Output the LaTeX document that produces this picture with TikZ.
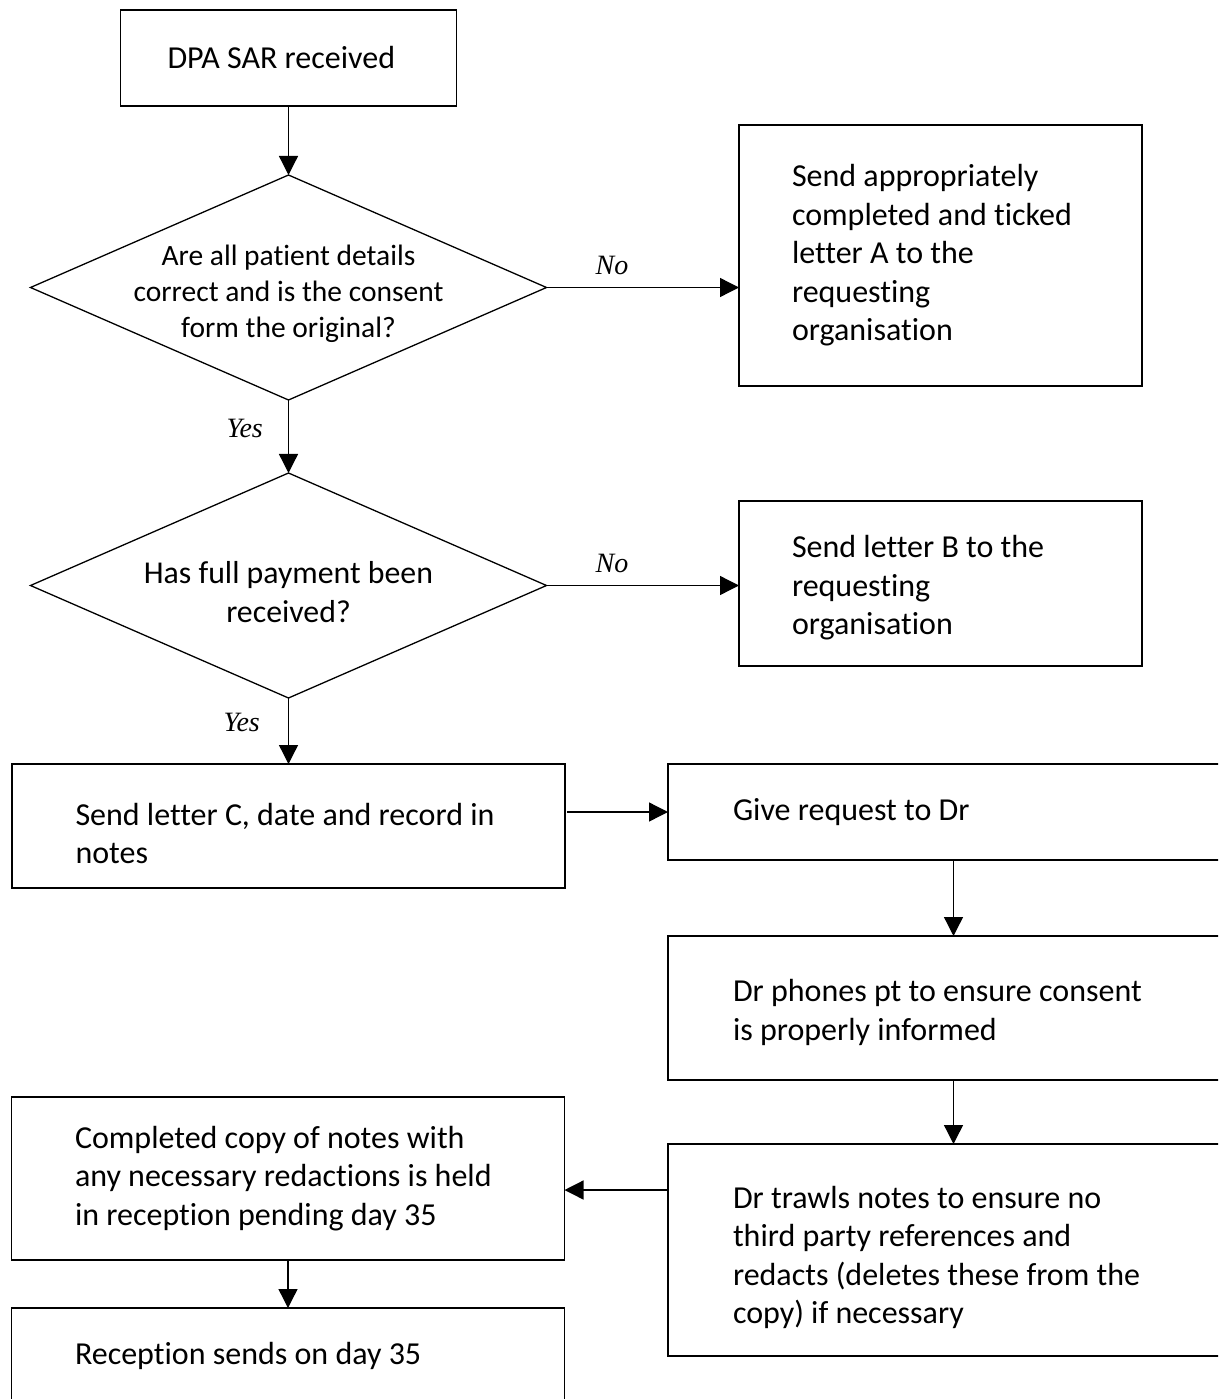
\documentclass[tikz,border=0pt]{standalone}
\usepackage{fontspec}
\setmainfont{Carlito}[Ligatures=NoCommon]
\newfontfamily\labelfont{Liberation Serif}
\usetikzlibrary{shapes.geometric,arrows.meta,positioning}

\tikzset{
  box/.style={draw, rectangle, line width=1.8pt, outer sep=0pt, inner ysep=0pt, align=flush left,
    font=\fontsize{32}{38.5}\selectfont},
  replybox/.style={box, minimum width=403pt, text width=297pt},
  leftbox/.style={box, minimum width=553pt, text width=426pt},
  rightbox/.style={box, minimum width=571pt, text width=441pt},
  decision/.style={draw, diamond, aspect=2.293, line width=1.3pt, outer sep=0pt, inner sep=-8pt,
    align=center, minimum width=516pt, minimum height=225pt, font=\fontsize{31.8}{38.5}\selectfont},
  arrow/.style={line width=1.3pt, -{Triangle[length=19pt,width=19pt]}},
  answer/.style={inner sep=0pt, font=\labelfont\itshape\fontsize{28}{34}\selectfont}
}

\begin{document}
\begin{tikzpicture}[x=1pt, y=-1pt]
\useasboundingbox (0,0) rectangle (1218,1399);
\clip (0,0) rectangle (1218,1399);
% left column: checks on the request
\node[box, minimum width=336pt, minimum height=96pt, text width=242pt](dpa) at (288.5,58) {DPA SAR received};
\node[decision, text height=105pt, font=\fontsize{29.5}{36}\selectfont](details) at (288.5,287.5) {Are all patient details\\correct and is the consent\\form the original?};
\node[replybox, minimum height=261pt](letterA) at (940.5,255.5) {Send appropriately\\completed and ticked\\letter A to the\\requesting\\organisation};
\node[decision, text height=74pt](payment) at (288.5,585.5) {Has full payment been\\received?};
\node[replybox, minimum height=165pt, text height=31pt](letterB) at (940.5,583.5) {Send letter B to the\\requesting\\organisation};
\node[leftbox, minimum height=124pt, text height=37pt](letterC) at (288.5,826) {Send letter C, date and record in\\notes};
% right column: the doctor
\node[rightbox, minimum height=96pt](request) at (953.5,812) {Give request to Dr};
\node[rightbox, minimum height=144pt, text height=31pt](phone) [below=76pt of request] {Dr phones pt to ensure consent\\is properly informed};
\node[rightbox, minimum height=212pt, text height=37pt](trawl) [below=64pt of phone] {Dr trawls notes to ensure no\\third party references and\\redacts (deletes these from the\\copy) if necessary};
% back to reception
\node[leftbox, minimum height=163pt](held) at (288,1178.5) {Completed copy of notes with\\any necessary redactions is held\\in reception pending day 35};
\node[leftbox, minimum height=96pt](sends) [below=48pt of held] {Reception sends on day 35};
\path[arrow]
(dpa) edge (details)
(details.east) edge node[answer, pos=0.34, above=12pt] {No} (details.east -| letterA.west)
(details) edge node[answer, pos=0.39, left=25pt] {Yes} (payment)
(payment.east) edge node[answer, pos=0.34, above=12pt] {No} (payment.east -| letterB.west)
(payment) edge node[answer, pos=0.37, left=28pt] {Yes} (letterC)
(letterC.east |- request.west) edge[shorten <=2pt] (request.west)
(request) edge (phone)
(phone) edge (trawl)
(trawl.west |- 0,1190) edge (held.east |- 0,1190)
(held) edge (sends);
\end{tikzpicture}
\end{document}
